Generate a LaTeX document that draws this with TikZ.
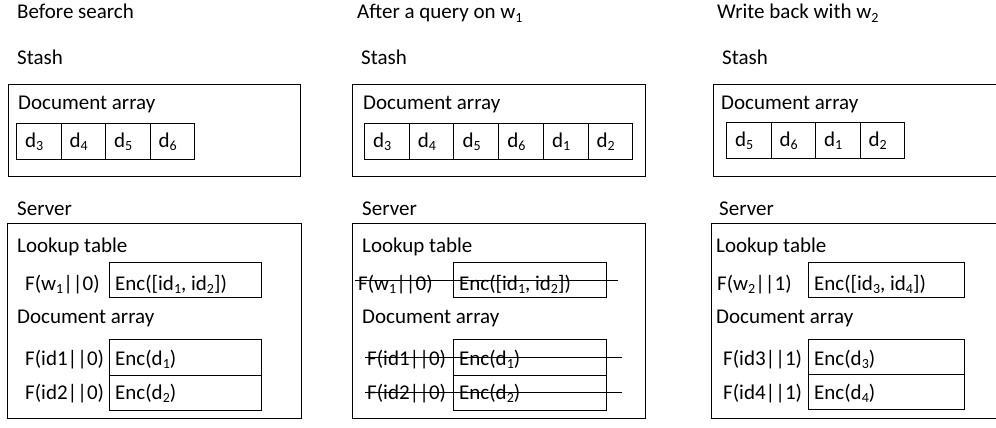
\documentclass[tikz,border=0pt]{standalone}
\usepackage{fontspec}
\setmainfont{Carlito}
\newcommand\sbs[1]{\raisebox{-3.5pt}{\fontsize{14}{14}\selectfont #1}}
\begin{document}
\begin{tikzpicture}[x=1pt,y=-1pt,
  txt/.style={anchor=base west, inner sep=0pt, font=\fontsize{21}{25}\selectfont},
  frm/.style={draw, line width=1pt, anchor=north west, inner sep=0pt},
  strike/.style={line width=1pt}]
\path[use as bounding box] (0,0) rectangle (996,428);
\clip (0,0) rectangle (996,428);

% ---------------- Panel 1 ----------------
\node[txt] (h1) at (17,19) {Before search};
\node[txt] (st1) at (17,64) {Stash};
\node[frm, minimum width=292pt, minimum height=92pt] (sb1) at (8,84) {};
\node[txt] (sda1) at (18,109) {Document array};
\foreach \i/\d in {0/3,1/4,2/5,3/6}{
  \node[frm, minimum width=44.5pt, minimum height=36pt] (c1\i) at ({16+44.5*\i},123) {};
  \node[txt] (t1\i) at ({25+44.5*\i},147) {d\sbs{\d}};
}
\node[txt] (sv1) at (17,215) {Server};
\node[frm, minimum width=294pt, minimum height=195pt] (srv1) at (7,223) {};
\node[txt] (lt1) at (17,252) {Lookup table};
\node[txt] (fw1) at (25,290) {F(w\sbs{1}||0)};
\node[frm, minimum width=152pt, minimum height=35pt] (eb1) at (109,262) {};
\node[txt] (et1) at (115,290) {Enc([id\sbs{1}, id\sbs{2}])};
\node[txt] (da1) at (17,323) {Document array};
\node[frm, minimum width=152pt, minimum height=36pt] (dc11) at (109,339) {};
\node[frm, minimum width=152pt, minimum height=35pt] (dc12) at (109,375) {};
\node[txt] (fi11) at (25,365) {F(id1||0)};
\node[txt] (ei11) at (115,365) {Enc(d\sbs{1})};
\node[txt] (fi12) at (25,399) {F(id2||0)};
\node[txt] (ei12) at (115,399) {Enc(d\sbs{2})};

% ---------------- Panel 2 ----------------
\node[txt] (h2) at (357,19) {After a query on w\sbs{1}};
\node[txt] (st2) at (361,64) {Stash};
\node[frm, minimum width=293pt, minimum height=92pt] (sb2) at (352,84) {};
\node[txt] (sda2) at (363,109) {Document array};
\foreach \i/\d in {0/3,1/4,2/5,3/6,4/1,5/2}{
  \node[frm, minimum width=44.7pt, minimum height=36pt] (c2\i) at ({364+44.7*\i},123) {};
  \node[txt] (t2\i) at ({373+44.7*\i},147) {d\sbs{\d}};
}
\node[txt] (sv2) at (362,215) {Server};
\node[frm, minimum width=293pt, minimum height=195pt] (srv2) at (352,223) {};
\node[txt] (lt2) at (362,252) {Lookup table};
\node[txt] (fw2) at (358,290) {F(w\sbs{1}||0)};
\node[frm, minimum width=153pt, minimum height=35pt] (eb2) at (453,262) {};
\node[txt] (et2) at (459,290) {Enc([id\sbs{1}, id\sbs{2}])};
\node[txt] (da2) at (362,323) {Document array};
\node[frm, minimum width=153pt, minimum height=36pt] (dc21) at (453,339) {};
\node[frm, minimum width=153pt, minimum height=35pt] (dc22) at (453,375) {};
\node[txt] (fi21) at (367,365) {F(id1||0)};
\node[txt] (ei21) at (459,365) {Enc(d\sbs{1})};
\node[txt] (fi22) at (367,399) {F(id2||0)};
\node[txt] (ei22) at (459,399) {Enc(d\sbs{2})};
\draw[strike] (355,280) -- (618,280);
\draw[strike] (365,357) -- (622,357);
\draw[strike] (365,392) -- (622,392);

% ---------------- Panel 3 ----------------
\node[txt] (h3) at (717,19) {Write back with w\sbs{2}};
\node[txt] (st3) at (722,64) {Stash};
\node[frm, minimum width=300pt, minimum height=92pt] (sb3) at (713,84) {};
\node[txt] (sda3) at (721,109) {Document array};
\foreach \i/\d in {0/5,1/6,2/1,3/2}{
  \node[frm, minimum width=44.5pt, minimum height=36pt] (c3\i) at ({726+44.5*\i},122) {};
  \node[txt] (t3\i) at ({735+44.5*\i},146) {d\sbs{\d}};
}
\node[txt] (sv3) at (719,215) {Server};
\node[frm, minimum width=300pt, minimum height=195pt] (srv3) at (711,223) {};
\node[txt] (lt3) at (716,252) {Lookup table};
\node[txt] (fw3) at (717,290) {F(w\sbs{2}||1)};
\node[frm, minimum width=156pt, minimum height=35pt] (eb3) at (808,262) {};
\node[txt] (et3) at (814,290) {Enc([id\sbs{3}, id\sbs{4}])};
\node[txt] (da3) at (716,323) {Document array};
\node[frm, minimum width=156pt, minimum height=35pt] (dc31) at (808,339) {};
\node[frm, minimum width=156pt, minimum height=35pt] (dc32) at (808,374) {};
\node[txt] (fi31) at (723,365) {F(id3||1)};
\node[txt] (ei31) at (814,365) {Enc(d\sbs{3})};
\node[txt] (fi32) at (723,399) {F(id4||1)};
\node[txt] (ei32) at (814,399) {Enc(d\sbs{4})};
\end{tikzpicture}
\end{document}
